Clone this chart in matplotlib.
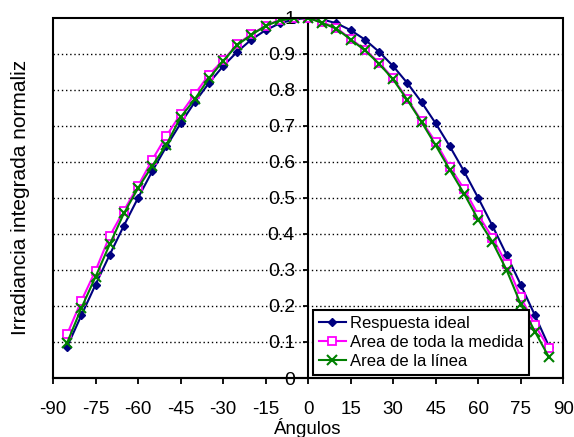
import matplotlib.pyplot as plt
from matplotlib.patches import Rectangle

plt.rcParams['font.family'] = ['Liberation Sans', 'DejaVu Sans']

# angulos de medida
angulos = [-85, -80, -75, -70, -65, -60, -55, -50, -45, -40, -35, -30, -25, -20, -15, -10, -5,
           0, 5, 10, 15, 20, 25, 30, 35, 40, 45, 50, 55, 60, 65, 70, 75, 80, 85]

respuesta_ideal = [0.087, 0.174, 0.259, 0.342, 0.423, 0.500, 0.574, 0.643, 0.707, 0.766, 0.819,
                   0.866, 0.906, 0.940, 0.966, 0.985, 0.996, 1.000, 0.996, 0.985, 0.966, 0.940,
                   0.906, 0.866, 0.819, 0.766, 0.707, 0.643, 0.574, 0.500, 0.423, 0.342, 0.259,
                   0.174, 0.087]

area_toda = [0.122, 0.214, 0.298, 0.394, 0.465, 0.533, 0.606, 0.672, 0.733, 0.788, 0.842,
             0.882, 0.927, 0.955, 0.978, 0.995, 1.000, 1.000, 0.988, 0.972, 0.942, 0.912,
             0.876, 0.832, 0.775, 0.714, 0.655, 0.586, 0.525, 0.453, 0.390, 0.317, 0.225,
             0.147, 0.082]

area_linea = [0.098, 0.194, 0.281, 0.371, 0.457, 0.527, 0.589, 0.648, 0.724, 0.774, 0.832,
              0.880, 0.925, 0.953, 0.978, 0.993, 0.999, 1.000, 0.986, 0.970, 0.940, 0.910,
              0.873, 0.829, 0.772, 0.711, 0.646, 0.578, 0.512, 0.440, 0.378, 0.300, 0.205,
              0.129, 0.057]

xticks = list(range(-90, 91, 15))
yticks = [0, 0.1, 0.2, 0.3, 0.4, 0.5, 0.6, 0.7, 0.8, 0.9, 1]
ytick_labels = ['0', '0.1', '0.2', '0.3', '0.4', '0.5', '0.6', '0.7', '0.8', '0.9', '1']

fig = plt.figure(figsize=(5.74, 4.37), dpi=100)
ax = fig.add_axes([0.0923, 0.135, 0.889, 0.824])

# rejilla punteada
for y in yticks[1:-1]:
    ax.axhline(y, color='black', linestyle=(0, (1, 2)), linewidth=1.0, zorder=1)

ax.plot(angulos, respuesta_ideal, color='#000080', marker='D', markersize=4.5,
        linewidth=1.5, label='Respuesta ideal', zorder=3)
ax.plot(angulos, area_toda, color='#FF00FF', marker='s', markersize=6,
        markerfacecolor='white', markeredgewidth=1.3, linewidth=1.5,
        label='Area de toda la medida', zorder=4)
ax.plot(angulos, area_linea, color='#008000', marker='x', markersize=7,
        markeredgewidth=1.5, linewidth=1.5, label='Area de la línea', zorder=5)

ax.set_xlim(-90, 90)
ax.set_ylim(0, 1)

# eje y en x=0
ax.spines['left'].set_position(('data', 0))
ax.spines['left'].set_linewidth(1.5)
ax.spines['bottom'].set_linewidth(1.5)
ax.spines['right'].set_visible(False)
ax.spines['top'].set_visible(False)
ax.add_patch(Rectangle((0, 0), 1, 1, transform=ax.transAxes, fill=False,
                       edgecolor='black', linewidth=1.5, clip_on=False, zorder=6))

ax.set_xticks(xticks)
ax.set_xticklabels([str(t) for t in xticks])
ax.set_yticks(yticks)
ax.set_yticklabels(ytick_labels)
ax.tick_params(axis='x', direction='out', length=4.5, width=1.3, pad=12, labelsize=13.5)
ax.tick_params(axis='y', direction='out', length=3.5, width=1.3, pad=6, labelsize=14)

fig.text(308 / 574, 1 - 428 / 437, 'Ángulos', ha='center', va='center', fontsize=13.5)
fig.text(21 / 574, 1 - 197 / 437, 'Irradiancia integrada normaliz', rotation=90,
         ha='center', va='center', fontsize=15)

leg = ax.legend(loc='lower left', bbox_to_anchor=(0.51, 0.008), borderaxespad=0,
                fontsize=12, fancybox=False, framealpha=1, edgecolor='black',
                handlelength=1.6, labelspacing=0.25, borderpad=0.35, handletextpad=0.25)
leg.get_frame().set_linewidth(1.5)
leg.set_zorder(7)

fig.savefig('out.png', dpi=100)
